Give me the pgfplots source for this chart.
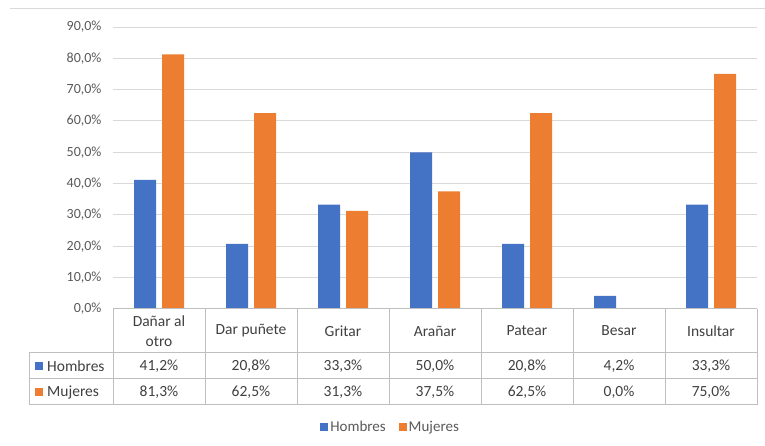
\documentclass[border=0pt]{standalone}
\usepackage{fontspec}
\setmainfont{Carlito}
\usepackage{pgfplots}
\pgfplotsset{compat=1.18}
\definecolor{cblue}{HTML}{4472C4}
\definecolor{corange}{HTML}{ED7D31}
\definecolor{cgrid}{HTML}{D9D9D9}
\definecolor{ctext}{HTML}{595959}
\definecolor{ctab}{HTML}{BFBFBF}
\definecolor{cdark}{HTML}{404040}
\begin{document}
\begin{tikzpicture}[x=1pt,y=1pt]
\useasboundingbox (0,0) rectangle (765,446);
\draw[cgrid, line width=1pt] (10,437) -- (765,437);
\begin{scope}[shift={(113pt,137pt)}]
\begin{axis}[
 at={(0pt,0pt)}, anchor=south west,
 scale only axis, width=644pt, height=282pt,
 xmin=0, xmax=7, ymin=0, ymax=90,
 ybar=6pt, bar width=22pt,
 axis line style={draw=none},
 xtick=\empty,
 ytick={0,10,...,90},
 yticklabels={{0,0\%},{10,0\%},{20,0\%},{30,0\%},{40,0\%},{50,0\%},{60,0\%},{70,0\%},{80,0\%},{90,0\%}},
 yticklabel style={font=\fontsize{14}{16}\selectfont, text=ctext, xshift=-8pt},
 ymajorgrids, grid style={cgrid, line width=1pt},
 major tick length=0pt,
 clip=false,
 legend style={at={(0.431,-0.42)}, anchor=center, draw=none, fill=none,
   legend columns=2, font=\fontsize{15}{17}\selectfont, text=ctext,
   /tikz/every even column/.append style={column sep=11pt}},
 legend image code/.code={\fill[#1] (0pt,-4pt) rectangle (8pt,4pt);},
]
\addplot[fill=cblue, draw=none] coordinates {(0.5,41.2) (1.5,20.8) (2.5,33.3) (3.5,50.0) (4.5,20.8) (5.5,4.2) (6.5,33.3)};
\addplot[fill=corange, draw=none] coordinates {(0.5,81.3) (1.5,62.5) (2.5,31.3) (3.5,37.5) (4.5,62.5) (5.5,0.0) (6.5,75.0)};
\legend{Hombres, Mujeres}
\end{axis}
\end{scope}
% data table
\draw[ctab, line width=1pt] (113,137) -- (757,137);
\draw[ctab, line width=1pt] (29,93) -- (757,93);
\draw[ctab, line width=1pt] (29,67) -- (757,67);
\draw[ctab, line width=1pt] (29,41) -- (757,41);
\foreach \x in {113,205,297,389,481,573,665,757} {\draw[ctab, line width=1pt] (\x,137) -- (\x,41);}
\draw[ctab, line width=1pt] (29,93) -- (29,41);
\begin{scope}[every node/.style={font=\fontsize{15.5}{20}\selectfont, text=cdark, inner sep=0pt}]
\node[align=center] at (159,115) {Dañar al\\otro};
\node at (251,115) {Dar puñete};
\node at (343,115) {Gritar};
\node at (435,115) {Arañar};
\node at (527,115) {Patear};
\node at (619,115) {Besar};
\node at (711,115) {Insultar};
\fill[cblue] (35,76) rectangle (43,84);
\node[anchor=west] at (47,80) {Hombres};
\fill[corange] (35,50) rectangle (43,58);
\node[anchor=west] at (47,54) {Mujeres};
\node at (159,80) {41,2\%};
\node at (251,80) {20,8\%};
\node at (343,80) {33,3\%};
\node at (435,80) {50,0\%};
\node at (527,80) {20,8\%};
\node at (619,80) {4,2\%};
\node at (711,80) {33,3\%};
\node at (159,54) {81,3\%};
\node at (251,54) {62,5\%};
\node at (343,54) {31,3\%};
\node at (435,54) {37,5\%};
\node at (527,54) {62,5\%};
\node at (619,54) {0,0\%};
\node at (711,54) {75,0\%};
\end{scope}
\end{tikzpicture}
\end{document}
